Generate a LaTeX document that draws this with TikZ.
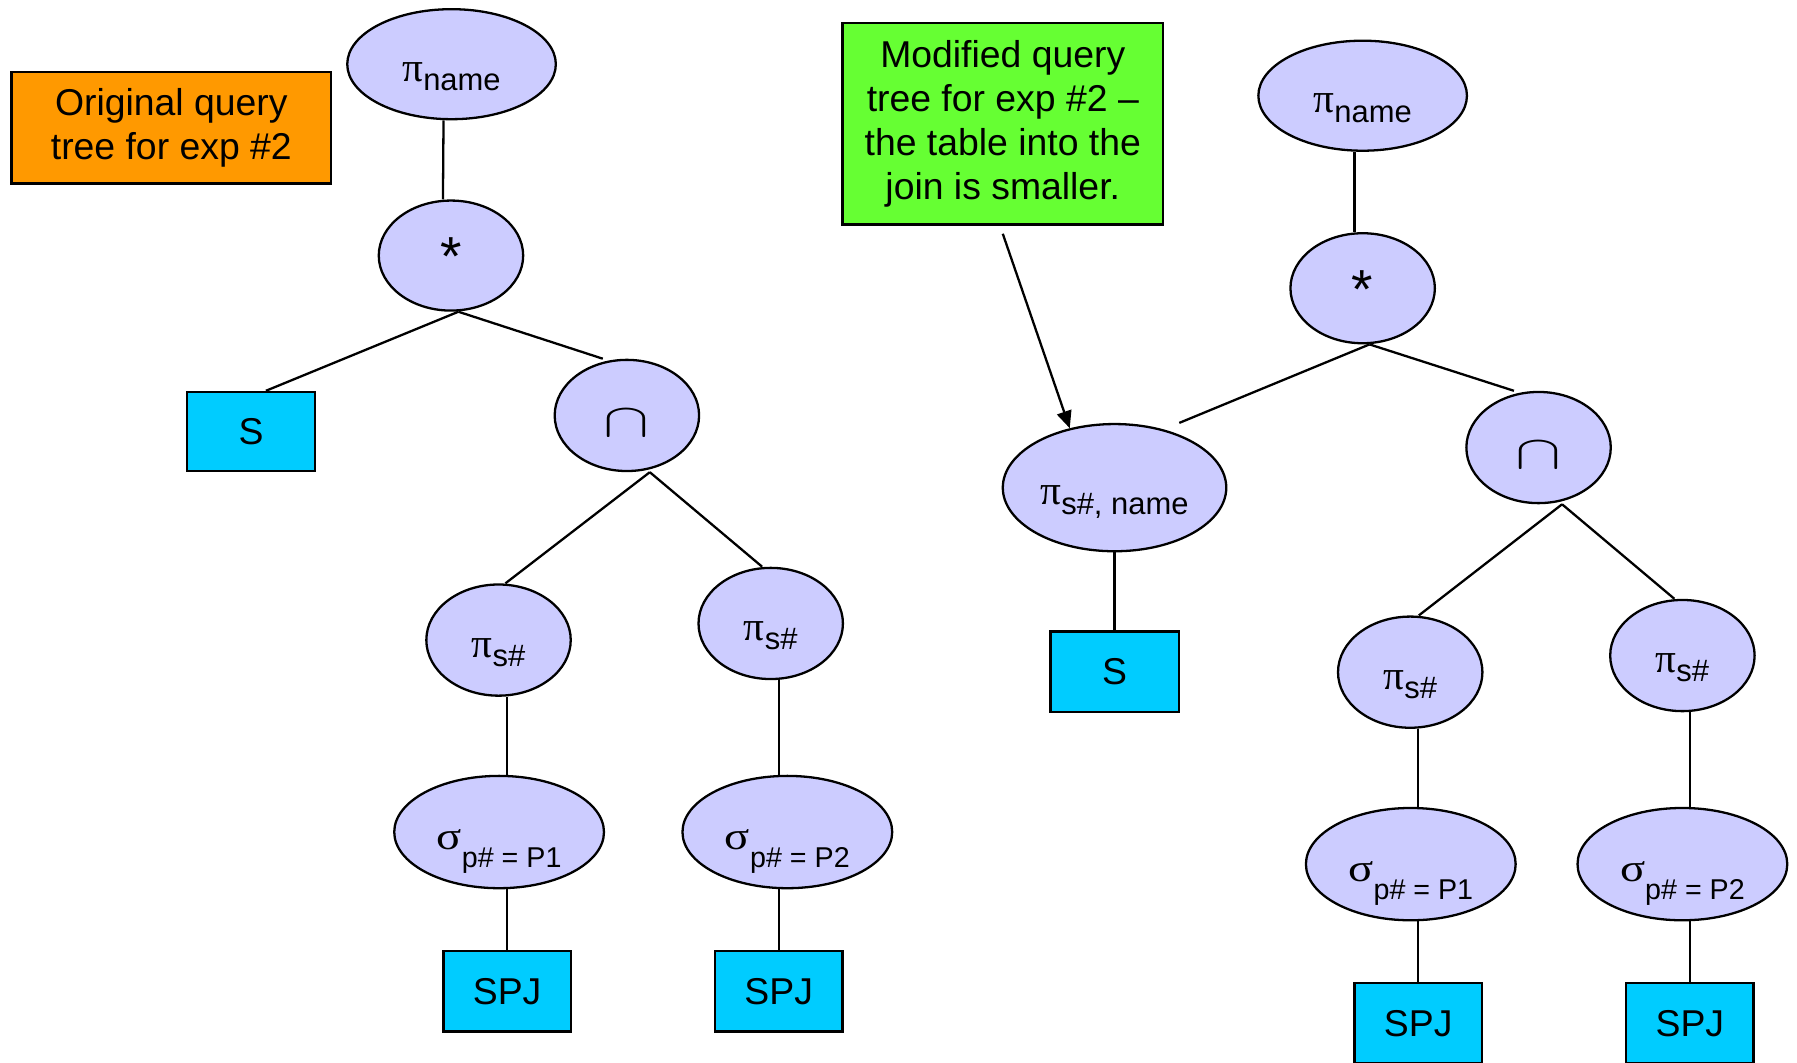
\documentclass[tikz,border=0pt]{standalone}
\usepackage{fontspec}
\usepackage{graphicx}
\setmainfont{Liberation Sans}
\newfontfamily\grk{Liberation Serif}
\usetikzlibrary{shapes.geometric,arrows.meta}
\definecolor{opfill}{HTML}{CCCCFF}
\definecolor{relfill}{HTML}{00CCFF}
\definecolor{origfill}{HTML}{FF9900}
\definecolor{modfill}{HTML}{66FF33}
\newcommand{\projop}[1]{{\grk\fontsize{18}{18}\selectfont π}\raisebox{-4pt}{\fontsize{13.5}{13.5}\selectfont #1}}
\newcommand{\selop}[1]{\scalebox{1.2}[1]{\grk\fontsize{17}{17}\selectfont σ}\raisebox{-8pt}{\fontsize{12.5}{12.5}\selectfont #1}}
\newcommand{\capsym}{\scalebox{1.45}[1]{\fontsize{20}{20}\selectfont$\cap$}}
\tikzset{
	op/.style={ellipse,draw,fill=opfill,line width=1pt,inner sep=0pt,text height=15pt,text depth=0pt},
	joinop/.style={op,minimum width=63pt,minimum height=48pt,text height=17.5pt,font=\fontsize{24}{24}\selectfont},
	interop/.style={op,minimum width=63pt,minimum height=48.5pt,text height=18.5pt},
	projsmall/.style={op,minimum width=63pt,minimum height=48.5pt},
	projbig/.style={op,minimum width=91pt,minimum height=48pt},
	selbox/.style={op,minimum width=91.5pt,minimum height=49pt},
	rel/.style={rectangle,draw,fill=relfill,line width=1pt,minimum width=55.5pt,minimum height=35pt,inner sep=0pt},
	note/.style={rectangle,draw,line width=1pt,align=center,inner sep=0pt},
	edge/.style={line width=1pt}
}
\begin{document}
\begin{tikzpicture}[x=0.5pt,y=-0.5pt,font=\fontsize{16.3}{19.3}\selectfont]
	\useasboundingbox (0,0) rectangle (1568,927);
	\clip (0,0) rectangle (1568,927);
	%		Ghi chú
	\node[note,fill=origfill,minimum width=139.5pt,minimum height=48.5pt] (orignote) at (149.5,111.5) {Original query\\tree for exp \#2};
	\node[note,fill=modfill,minimum width=140pt,minimum height=88pt] (modnote) at (875,108) {Modified query\\tree for exp \#2 –\\the table into the\\join is smaller.};
	%		Cây ban đầu
	\node[projbig] (pname1) at (394,56) {\projop{name}};
	\node[joinop] (join1) at (393.5,223) {*};
	\node[rel,minimum width=56pt,minimum height=34.5pt] (s1) at (219,376.5) {S};
	\node[interop] (inter1) at (547,362.5) {\capsym};
	\node[projsmall] (ps1) at (435,558.5) {\projop{s\#}};
	\node[projsmall] (ps2) at (672.5,544) {\projop{s\#}};
	\node[selbox] (sel1) at (435.5,726) {\selop{p\# = P1}};
	\node[selbox] (sel2) at (687,726) {\selop{p\# = P2}};
	\node[rel] (spj1) at (442.5,865) {SPJ};
	\node[rel] (spj2) at (679.5,865) {SPJ};
	\draw[edge] ([xshift=-3.5pt]pname1.south) -- ([xshift=-3.5pt]join1.north);
	\draw[edge] ([xshift=3.25pt]join1.south) -- ([xshift=6.5pt]s1.north);
	\draw[edge] ([xshift=3.25pt]join1.south) -- ([xshift=-10.5pt]inter1.north);
	\draw[edge] ([xshift=10pt]inter1.south) -- ([xshift=3pt]ps1.north);
	\draw[edge] ([xshift=10pt]inter1.south) -- ([xshift=-3.75pt]ps2.north);
	\draw[edge] (ps1.south -| spj1.north) -- (sel1.north -| spj1.north) (sel1.south -| spj1.north) -- (spj1.north);
	\draw[edge] (ps2.south -| spj2.north) -- (sel2.north -| spj2.north) (sel2.south -| spj2.north) -- (spj2.north);
	%		Cây sửa đổi
	\node[projbig] (pname2) at (1189,83.5) {\projop{name}};
	\node[joinop] (join2) at (1189,251.5) {*};
	\node[op,minimum width=97.5pt,minimum height=55.5pt] (pnm) at (972.5,425.5) {\projop{s\#, name}};
	\node[rel,minimum width=56pt,minimum height=35pt] (s2) at (972.5,586) {S};
	\node[interop] (inter2) at (1342.5,390.5) {\capsym};
	\node[projsmall] (ps3) at (1230.5,586.5) {\projop{s\#}};
	\node[projsmall] (ps4) at (1468,572) {\projop{s\#}};
	\node[selbox] (sel3) at (1231,754) {\selop{p\# = P1}};
	\node[selbox] (sel4) at (1468,754) {\selop{p\# = P2}};
	\node[rel] (spj3) at (1237.5,893) {SPJ};
	\node[rel] (spj4) at (1474.5,893) {SPJ};
	\draw[edge] ([xshift=-3.5pt]pname2.south) -- ([xshift=-3.5pt]join2.north);
	\draw[edge] ([xshift=3pt]join2.south) -- ([xshift=28.25pt]pnm.north);
	\draw[edge] ([xshift=3pt]join2.south) -- ([xshift=-10.75pt]inter2.north);
	\draw[edge] (pnm.south -| s2.north) -- (s2.north);
	\draw[edge] ([xshift=10.25pt]inter2.south) -- ([xshift=3.75pt]ps3.north);
	\draw[edge] ([xshift=10.25pt]inter2.south) -- ([xshift=-3.5pt]ps4.north);
	\draw[edge] (ps3.south -| spj3.north) -- (sel3.north -| spj3.north) (sel3.south -| spj3.north) -- (spj3.north);
	\draw[edge] (ps4.south -| spj4.north) -- (sel4.north -| spj4.north) (sel4.south -| spj4.north) -- (spj4.north);
	%		Mũi tên
	\draw[edge,-{Triangle[length=7.5pt,width=6.5pt]}] ([yshift=-3.5pt]modnote.south) -- (pnm.127);
\end{tikzpicture}
\end{document}
